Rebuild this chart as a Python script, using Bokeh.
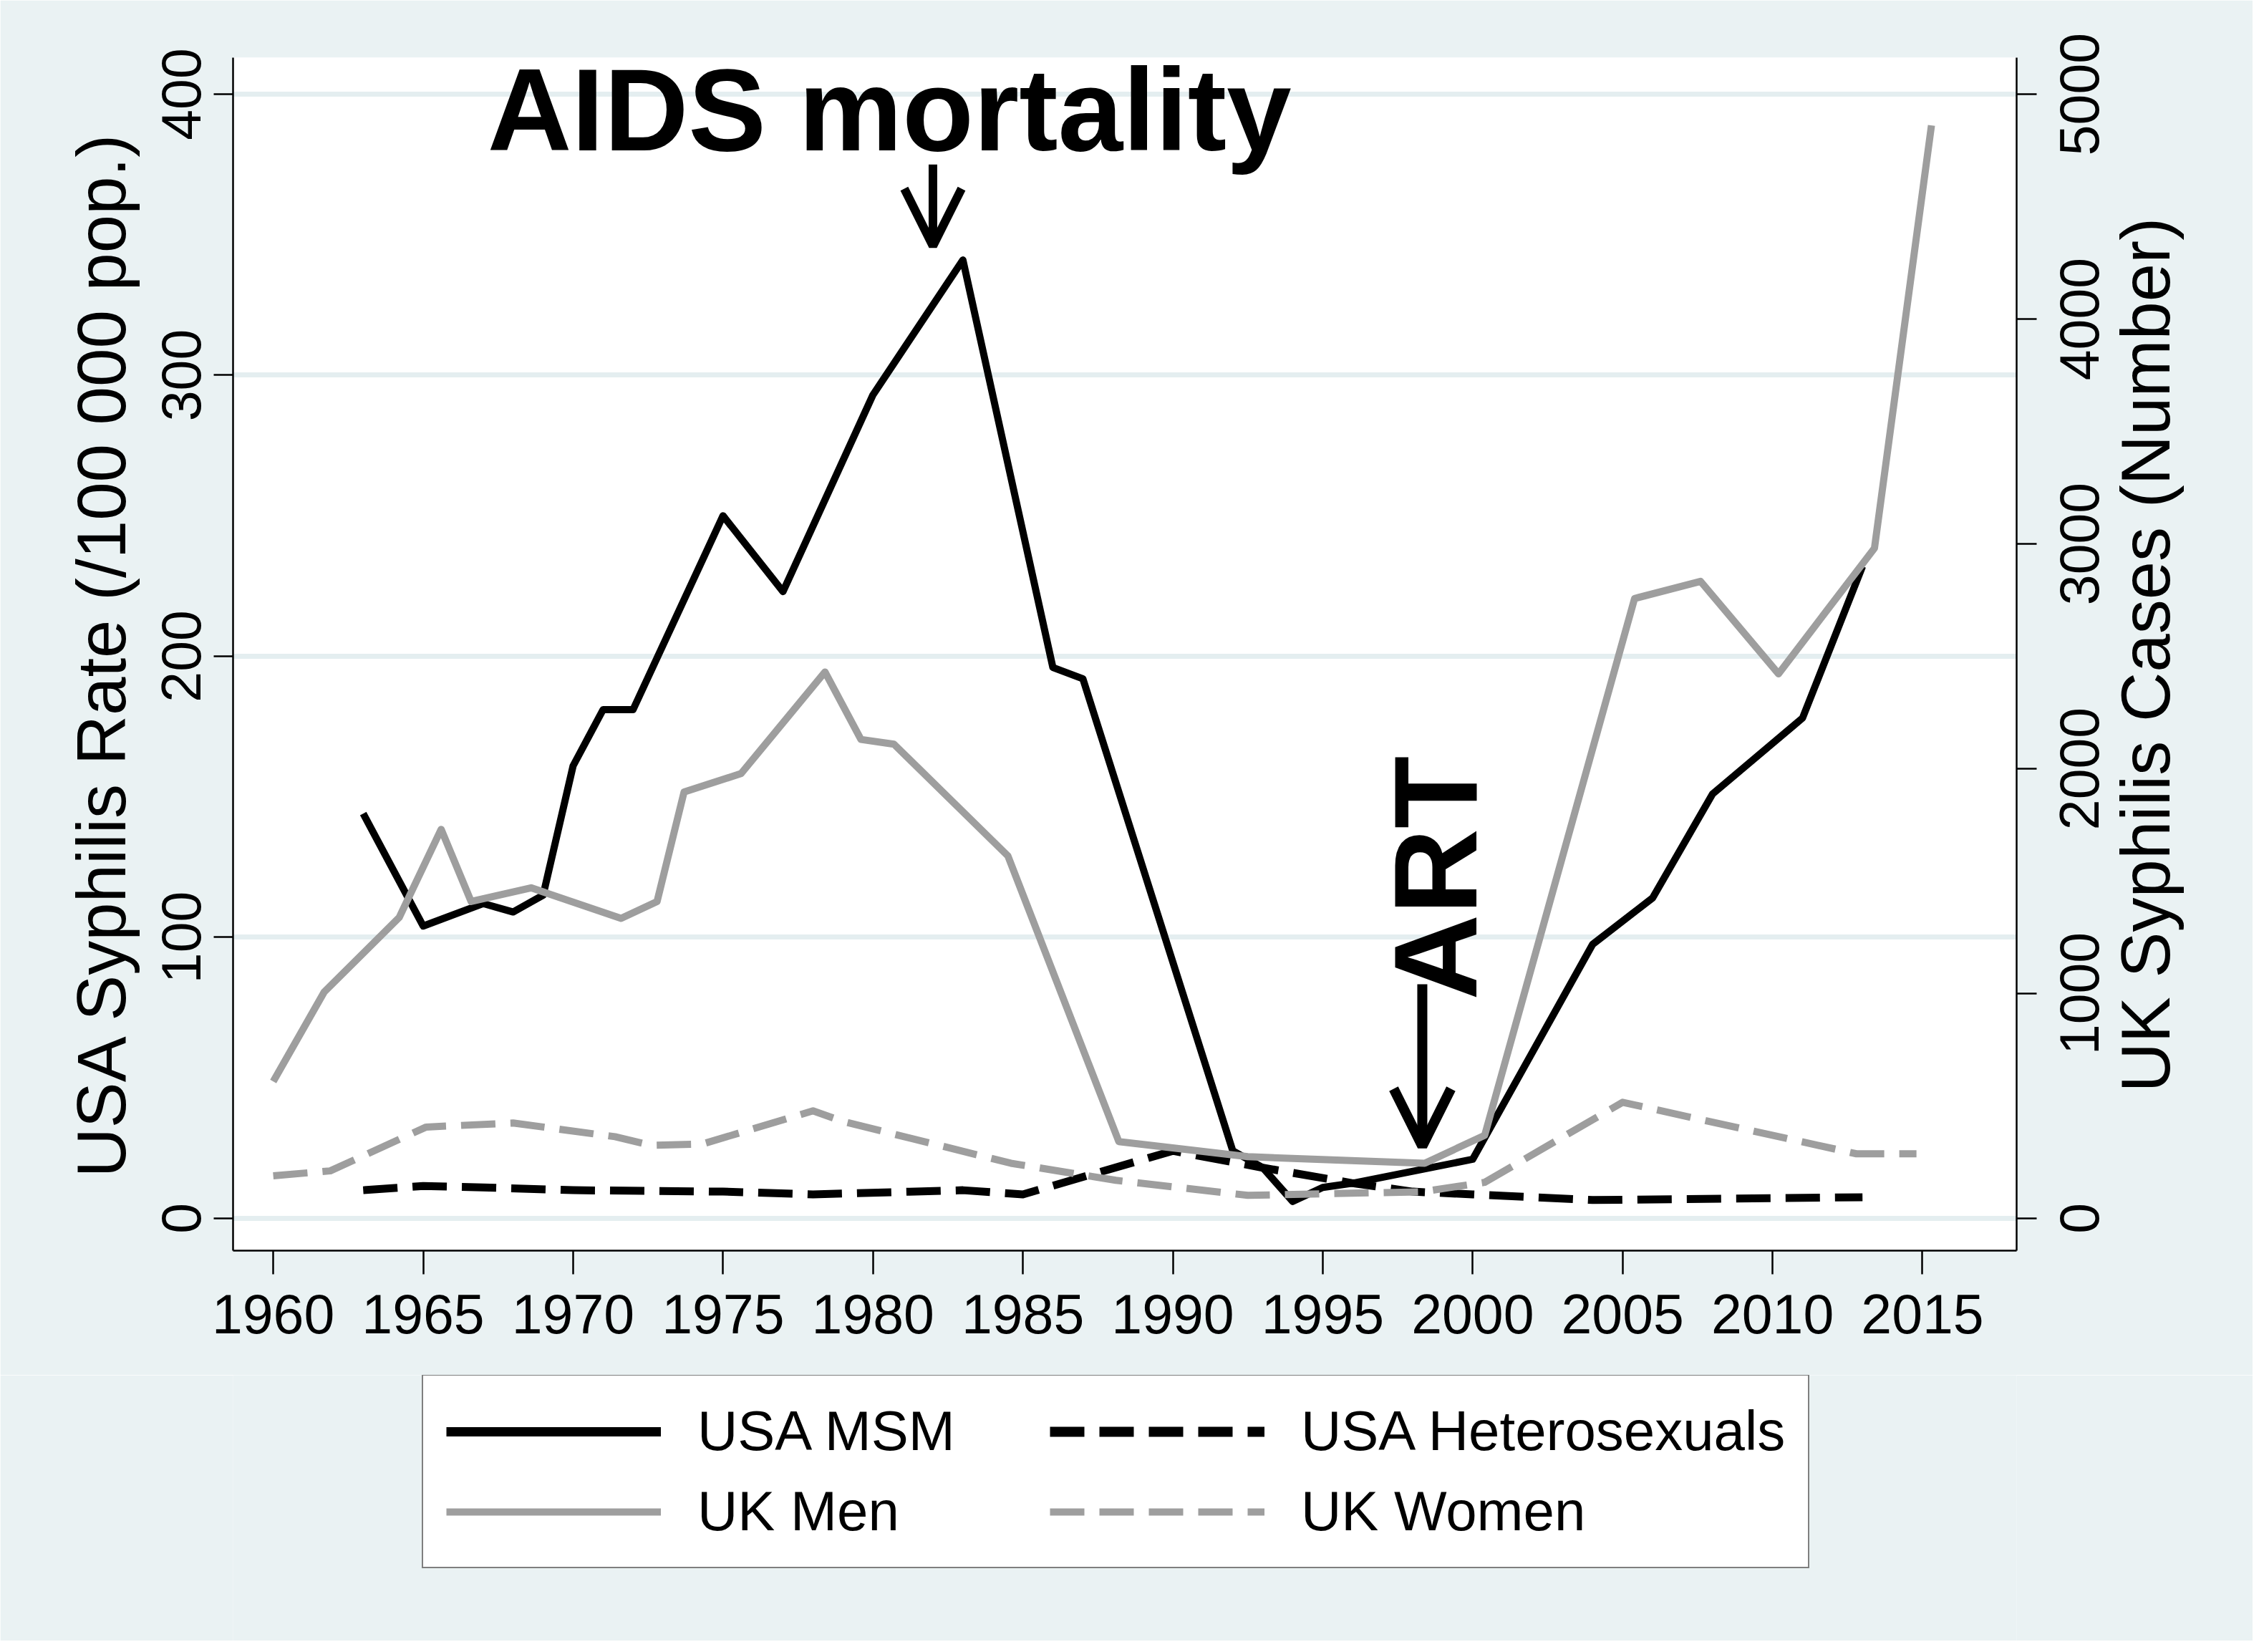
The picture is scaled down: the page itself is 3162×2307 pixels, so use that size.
import math
from bokeh.plotting import figure
from bokeh.layouts import column
from bokeh.models import (Range1d, LinearAxis, FixedTicker, Label, Arrow,
                          OpenHead, Legend, LegendItem)
from bokeh.embed import file_html
from bokeh.resources import INLINE

# ---------------- data ----------------
usa_msm_year = [1963, 1965, 1967, 1968, 1969, 1970, 1971, 1972, 1975, 1977,
                1980, 1983, 1986, 1987, 1992, 1993, 1994, 1995, 1996, 2000,
                2004, 2006, 2008, 2011, 2013]
usa_msm_rate = [144, 104, 112, 109, 115, 161, 181, 181, 250, 223,
                293, 341, 196, 192, 24, 18, 6, 11, 12.5, 21,
                97.5, 114, 151, 178, 232]

usa_het_year = [1963, 1965, 1967, 1970, 1975, 1978, 1983, 1985, 1990, 1993,
                1996, 1998, 2000, 2004, 2013]
usa_het_rate = [10, 11.5, 11, 10, 9.5, 8.5, 10, 8.5, 24, 18,
                12.5, 9.5, 8.5, 6.5, 7.5]

uk_men_year = [1960, 1961.7, 1964.2, 1965.6, 1966.6, 1968.6, 1971.6, 1972.8,
               1973.7, 1975.6, 1978.4, 1979.6, 1980.7, 1984.5, 1988.2, 1992.5,
               1998.4, 2000.4, 2005.4, 2007.6, 2010.2, 2013.4, 2015.3]
uk_men_cases = [609, 1007, 1338, 1730, 1409, 1470, 1334, 1409,
                1896, 1978, 2430, 2130, 2109, 1612, 341, 274,
                245, 369, 2757, 2833, 2422, 2981, 4861]

uk_women_year = [1960, 1961.9, 1965.1, 1968.0, 1971.4, 1972.6, 1974.3, 1978.0,
                 1979.0, 1984.6, 1988.1, 1992.5, 1998.3, 2000.4, 2005.0,
                 2012.8, 2014.8]
uk_women_cases = [189, 211, 406, 424, 363, 325, 330, 478,
                  431, 245, 169, 102, 118, 160, 516,
                  287, 287]

x_ticks = [1960, 1965, 1970, 1975, 1980, 1985, 1990, 1995, 2000, 2005, 2010, 2015]
left_ticks = [0, 100, 200, 300, 400]
right_ticks = [0, 1000, 2000, 3000, 4000, 5000]
right_tick_labels = ["0", "1000", "2000", "3000", "4000", "5000"]

left_title = "USA Syphilis Rate (/100 000 pop.)"
right_title = "UK Syphilis Cases (Number)"
series_names = ["USA MSM", "USA Heterosexuals", "UK Men", "UK Women"]

# ---------------- figure ----------------
FONT = "Liberation Sans"
BG = "#EAF2F3"
TICK_PX = 77
UK_PER_RATE = 12.5
Y0, Y1 = -11.5, 413.0
PX_PER_RATE = 3.925
W = 3146
H_PLOT = 1920
H_LEG = 371

p = figure(width=W, height=H_PLOT,
           x_range=Range1d(1958.66, 2018.14), y_range=Range1d(Y0, Y1),
           output_backend="svg", toolbar_location=None,
           min_border_left=325, min_border_right=330,
           min_border_top=80, min_border_bottom=174,
           background_fill_color="white", border_fill_color=BG,
           outline_line_color=None)
p.extra_y_ranges = {"uk": Range1d(Y0 * UK_PER_RATE, Y1 * UK_PER_RATE)}

def style_axis(ax, size="77px"):
    ax.major_label_text_font = FONT
    ax.major_label_text_font_size = size
    ax.major_label_text_color = "black"
    ax.axis_line_color = "black"
    ax.axis_line_width = 2.5
    ax.major_tick_line_color = "black"
    ax.major_tick_line_width = 2.5
    ax.minor_tick_line_color = "black"
    ax.minor_tick_line_width = 2.5
    ax.major_tick_in = 0
    ax.minor_tick_in = 0
    ax.minor_tick_out = 0

# bottom axis
xa = p.xaxis[0]
style_axis(xa)
xa.ticker = FixedTicker(ticks=x_ticks)
xa.major_tick_out = 33
xa.major_label_standoff = 28

# left axis
ya = p.yaxis[0]
style_axis(ya)
ya.ticker = FixedTicker(ticks=left_ticks)
ya.major_tick_out = 27
ya.major_label_orientation = "vertical"
ya.major_label_standoff = 18
ya.axis_label = left_title
ya.axis_label_text_font = FONT
ya.axis_label_text_font_size = "96px"
ya.axis_label_text_font_style = "normal"
ya.axis_label_text_color = "black"
ya.axis_label_standoff = 29

# right axis: tick marks at the true values (minor ticks), labels centred on
# them (rotated labels start at their anchor, so the anchor is moved down by
# half of the label length)
def half_len_uk(label, px):
    return round(len(label) * 0.556 * px / 2 / PX_PER_RATE * UK_PER_RATE)

right_label_pos = [t - half_len_uk(s, TICK_PX) for t, s in zip(right_ticks, right_tick_labels)]
rax = LinearAxis(y_range_name="uk")
style_axis(rax)
rax.ticker = FixedTicker(ticks=right_label_pos, minor_ticks=right_ticks)
rax.major_label_overrides = {v: s for v, s in zip(right_label_pos, right_tick_labels)}
rax.major_tick_out = 0
rax.minor_tick_out = 28
rax.major_label_orientation = math.pi / 2
rax.major_label_standoff = 60
p.add_layout(rax, "right")

# right title (bottom-to-top, like the reference)
title_start = 560
tax = LinearAxis(y_range_name="uk")
style_axis(tax, "96px")
tax.ticker = FixedTicker(ticks=[title_start], minor_ticks=[])
tax.major_label_overrides = {title_start: right_title}
tax.axis_line_color = None
tax.major_tick_out = 0
tax.major_label_orientation = math.pi / 2
tax.major_label_standoff = 35
p.add_layout(tax, "right")

p.xgrid.visible = False
p.ygrid.ticker = FixedTicker(ticks=left_ticks)
p.ygrid.grid_line_color = "#E4EEF0"
p.ygrid.grid_line_width = 7

# ---------------- series ----------------
GRAY = "#9E9E9E"
DASH = "48 21"
p.line(usa_msm_year, usa_msm_rate, line_color="black", line_width=10,
       line_join="round")
p.line(usa_het_year, usa_het_rate, line_color="black", line_width=11,
       line_dash=DASH, line_join="round")
p.line(uk_men_year, uk_men_cases, line_color=GRAY, line_width=10,
       line_join="round", y_range_name="uk")
p.line(uk_women_year, uk_women_cases, line_color=GRAY, line_width=10,
       line_dash=DASH, line_join="round", y_range_name="uk")

# ---------------- annotations ----------------
p.add_layout(Label(x=1967.14, y=394.5, text="AIDS mortality",
                   text_font=FONT, text_font_size="163px",
                   text_font_style="bold", text_color="black",
                   text_align="left", text_baseline="alphabetic"))
p.add_layout(Arrow(end=OpenHead(size=80, line_width=12, line_color="black"),
                   x_start=1982.0, y_start=375, x_end=1982.0, y_end=346,
                   line_width=12, line_color="black"))

p.add_layout(Label(x=1998.76, y=77.6, text="ART", angle=math.pi / 2,
                   text_font=FONT, text_font_size="166px",
                   text_font_style="bold", text_color="black",
                   text_align="left", text_baseline="alphabetic"))
p.add_layout(Arrow(end=OpenHead(size=80, line_width=14, line_color="black"),
                   x_start=1998.32, y_start=83.3, x_end=1998.32, y_end=25.7,
                   line_width=14, line_color="black"))

# ---------------- legend (own strip below the plot) ----------------
# the series are drawn again here only as legend keys; the view range keeps
# their lines out of sight
q = figure(width=W, height=H_LEG, x_range=Range1d(0, 1), y_range=Range1d(0, 1),
           x_axis_type=None, y_axis_type=None,
           output_backend="svg", toolbar_location=None,
           min_border_left=0, min_border_right=0,
           min_border_top=0, min_border_bottom=0,
           background_fill_color=BG, border_fill_color=BG,
           outline_line_color=None)
q.grid.visible = False
k1 = q.line(usa_msm_year, usa_msm_rate, line_color="black", line_width=13)
k2 = q.line(usa_het_year, usa_het_rate, line_color="black", line_width=14,
            line_dash=DASH)
k3 = q.line(uk_men_year, uk_men_cases, line_color=GRAY, line_width=10)
k4 = q.line(uk_women_year, uk_women_cases, line_color=GRAY, line_width=10,
            line_dash=DASH)

items = [LegendItem(label=series_names[0], renderers=[k1]),
         LegendItem(label=series_names[1], renderers=[k2]),
         LegendItem(label=series_names[2], renderers=[k3]),
         LegendItem(label=series_names[3], renderers=[k4])]
legend = Legend(items=items, location=(264, 101), orientation="horizontal",
                ncols=2, padding=32, spacing=21, margin=0,
                glyph_width=300, glyph_height=88, label_height=88,
                label_width=471, label_standoff=51,
                label_text_font=FONT, label_text_font_size="78px",
                label_text_color="black",
                border_line_color="black", border_line_width=2.5,
                background_fill_color="white", background_fill_alpha=1.0)
q.add_layout(legend, "center")

layout = column(p, q, spacing=0)
open("out.html", "w").write(file_html(layout, INLINE))
